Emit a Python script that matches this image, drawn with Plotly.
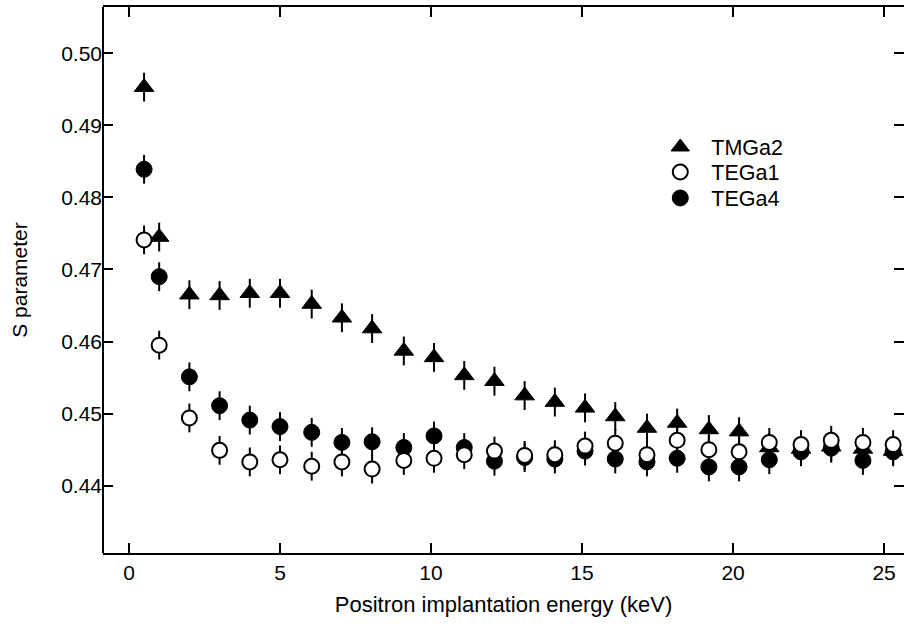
import plotly.graph_objects as go

# Positron implantation energy (keV)
energy = [0.5, 1, 2, 3, 4, 5, 6.05, 7.05, 8.05, 9.1, 10.1, 11.1, 12.1, 13.1,
          14.1, 15.1, 16.1, 17.15, 18.15, 19.2, 20.2, 21.2, 22.25, 23.25, 24.3, 25.3]

s_tmga2 = [0.4953, 0.4745, 0.4665, 0.4664, 0.4667, 0.4667, 0.4652, 0.4633, 0.4618,
           0.4587, 0.4578, 0.4553, 0.4545, 0.4525, 0.4516, 0.4508, 0.4496, 0.4480,
           0.4487, 0.4478, 0.4475, 0.4453, 0.4451, 0.4454, 0.4451, 0.4448]
err_tmga2 = [0.002] * 26

s_tega1 = [0.4741, 0.4595, 0.4494, 0.4449, 0.4433, 0.4436, 0.4427, 0.4433, 0.4423,
           0.4435, 0.4438, 0.4443, 0.4448, 0.4442, 0.4443, 0.4455, 0.4459, 0.4443,
           0.4463, 0.4450, 0.4447, 0.4460, 0.4457, 0.4463, 0.4460, 0.4457]
err_tega1 = [0.002] * 26

s_tega4 = [0.4839, 0.4690, 0.4551, 0.4511, 0.4491, 0.4482, 0.4474, 0.4460, 0.4461,
           0.4453, 0.4469, 0.4453, 0.4434, 0.4439, 0.4437, 0.4448, 0.4437, 0.4433,
           0.4438, 0.4426, 0.4426, 0.4436, 0.4447, 0.4452, 0.4435, 0.4447]
err_tega4 = [0.002] * 26

x_ticks = [0, 5, 10, 15, 20, 25]
y_ticks = [0.44, 0.45, 0.46, 0.47, 0.48, 0.49, 0.50]

FONT = "Liberation Sans, Arial, Helvetica, sans-serif"

def err(vals):
    return dict(type="data", array=vals, visible=True, color="black",
                thickness=2, width=0)

def leg(yc):
    return dict(x=0.682, y=yc, xanchor="left", yanchor="middle",
                bgcolor="rgba(0,0,0,0)", itemwidth=52,
                font=dict(family=FONT, size=21.5, color="black"))

fig = go.Figure()
fig.add_trace(go.Scatter(
    x=energy, y=s_tmga2, mode="markers", name="TMGa2", legend="legend",
    marker=dict(symbol="triangle-up", size=17, color="black",
                line=dict(color="black", width=1)),
    error_y=err(err_tmga2)))
fig.add_trace(go.Scatter(
    x=energy, y=s_tega4, mode="markers", name="TEGa4", legend="legend3",
    marker=dict(symbol="circle", size=16, color="black",
                line=dict(color="black", width=1)),
    error_y=err(err_tega4)))
fig.add_trace(go.Scatter(
    x=energy, y=s_tega1, mode="markers", name="TEGa1", legend="legend2",
    marker=dict(symbol="circle", size=15, color="white",
                line=dict(color="black", width=2)),
    error_y=err(err_tega1)))

fig.update_layout(
    width=904, height=626,
    margin=dict(l=103, r=0, t=7, b=73),
    paper_bgcolor="white", plot_bgcolor="white",
    font=dict(family=FONT, size=20, color="black"),
    showlegend=True,
    legend=leg(0.7436), legend2=leg(0.6978), legend3=leg(0.6502),
    shapes=[dict(type="line", xref="paper", yref="paper", x0=0, x1=0, y0=0, y1=1,
                 line=dict(color="black", width=2))],
)
fig.update_xaxes(
    range=[-0.86, 25.66], tickvals=x_ticks, ticktext=[str(v) for v in x_ticks],
    ticks="inside", ticklen=10, tickwidth=1.5, tickcolor="black",
    showline=True, linecolor="black", linewidth=2, mirror="ticks",
    showgrid=False, zeroline=False,
    title=dict(text="Positron implantation energy (keV)", standoff=13,
               font=dict(size=22)),
    tickfont=dict(size=21))
fig.update_yaxes(
    range=[0.43066, 0.50642], tickvals=y_ticks, ticktext=[f"{v:.2f}" for v in y_ticks],
    ticks="inside", ticklen=10, tickwidth=1.5, tickcolor="black",
    showline=False, mirror="ticks",
    showgrid=False, zeroline=False,
    title=dict(text="S parameter", standoff=27, font=dict(size=21)),
    tickfont=dict(size=21))

fig.write_html("out.html")
